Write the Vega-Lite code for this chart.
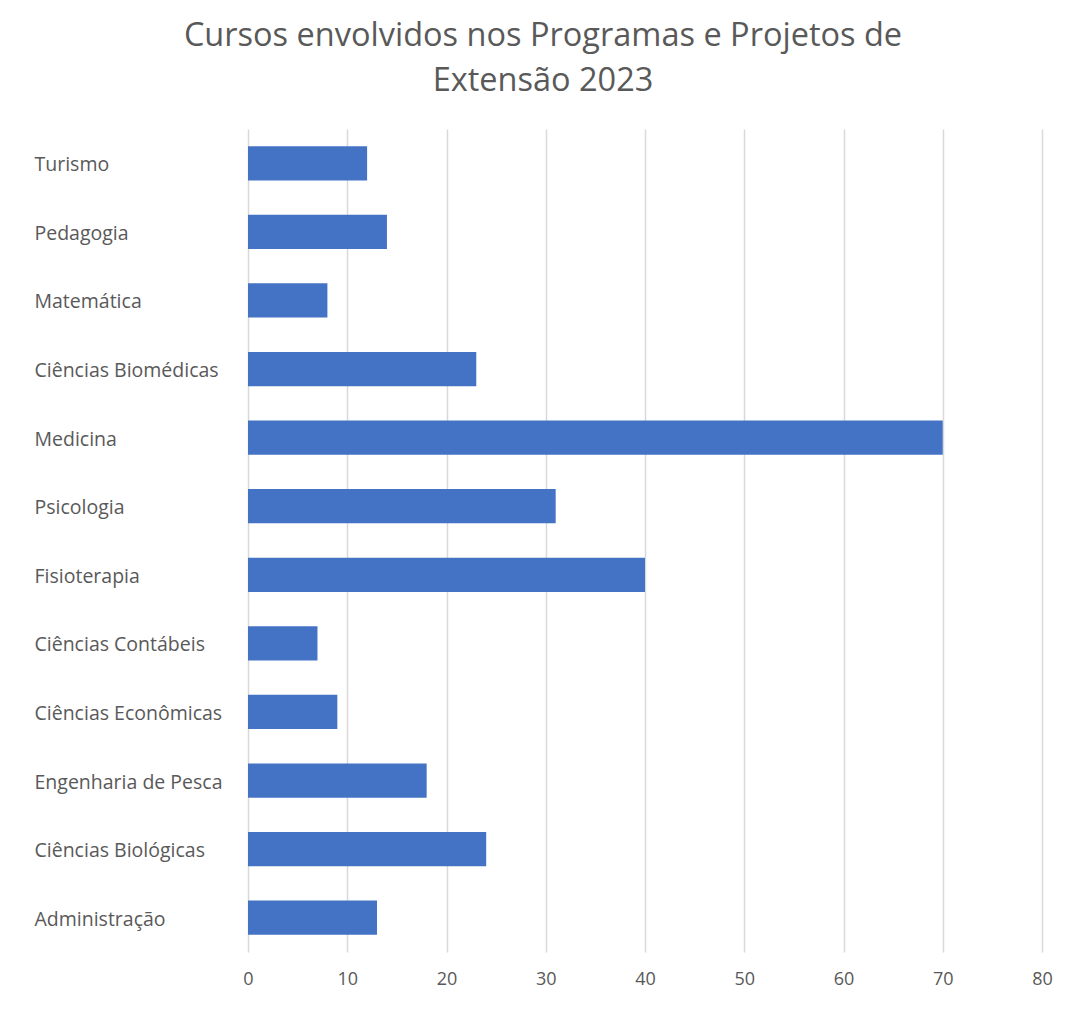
{
  "$schema": "https://vega.github.io/schema/vega-lite/v6.json",
  "autosize": "none",
  "width": 794,
  "height": 823,
  "padding": {"left": 248, "top": 129, "right": 25, "bottom": 58},
  "background": "white",
  "title": {
    "text": ["Cursos envolvidos nos Programas e Projetos de", "Extensão 2023"],
    "font": "Open Sans",
    "fontSize": 32.5,
    "fontWeight": "normal",
    "color": "#595959",
    "anchor": "middle",
    "dx": -102,
    "offset": 32,
    "lineHeight": 45
  },
  "data": {
    "values": [
      {"curso": "Administração", "valor": 13},
      {"curso": "Ciências Biológicas", "valor": 24},
      {"curso": "Engenharia de Pesca", "valor": 18},
      {"curso": "Ciências Econômicas", "valor": 9},
      {"curso": "Ciências Contábeis", "valor": 7},
      {"curso": "Fisioterapia", "valor": 40},
      {"curso": "Psicologia", "valor": 31},
      {"curso": "Medicina", "valor": 70},
      {"curso": "Ciências Biomédicas", "valor": 23},
      {"curso": "Matemática", "valor": 8},
      {"curso": "Pedagogia", "valor": 14},
      {"curso": "Turismo", "valor": 12}
    ]
  },
  "mark": {"type": "bar", "color": "#4472C4"},
  "encoding": {
    "y": {
      "field": "curso",
      "type": "nominal",
      "sort": ["Turismo", "Pedagogia", "Matemática", "Ciências Biomédicas", "Medicina", "Psicologia", "Fisioterapia", "Ciências Contábeis", "Ciências Econômicas", "Engenharia de Pesca", "Ciências Biológicas", "Administração"],
      "scale": {"paddingInner": 0.5, "paddingOuter": 0.25},
      "axis": {
        "title": null,
        "ticks": false,
        "tickSize": 0,
        "domain": false,
        "grid": false,
        "labelAlign": "left",
        "labelPadding": 214,
        "labelOffset": 2,
        "labelFont": "Open Sans",
        "labelFontSize": 19.5,
        "labelColor": "#595959",
        "labelLimit": 0
      }
    },
    "x": {
      "field": "valor",
      "type": "quantitative",
      "scale": {"domain": [0, 80], "nice": false},
      "axis": {
        "title": null,
        "values": [0, 10, 20, 30, 40, 50, 60, 70, 80],
        "ticks": false,
        "tickSize": 0,
        "domain": false,
        "grid": true,
        "gridColor": "#d9d9d9",
        "gridWidth": 1.5,
        "labelFlush": false,
        "labelPadding": 18,
        "labelFont": "Open Sans",
        "labelFontSize": 18,
        "labelColor": "#595959"
      }
    }
  },
  "config": {"view": {"stroke": null}}
}
